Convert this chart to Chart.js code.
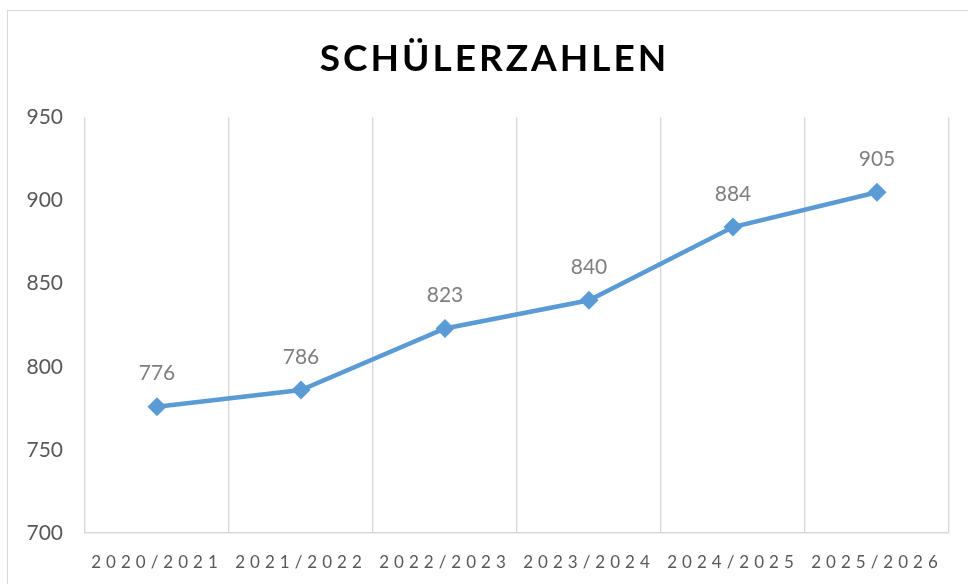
<!DOCTYPE html>
<html>
<head>
<meta charset="utf-8">
<script src="https://cdn.jsdelivr.net/npm/chart.js@4"></script>
<style>
  html, body { margin: 0; padding: 0; background: #fff; overflow: hidden; }
  #rahmen { position: absolute; left: 7px; top: 10px; width: 1000px; height: 620px; border: 1.5px solid #d9d9d9; }
  #wrap { position: absolute; left: 0; top: 0; width: 968px; height: 584px; }
</style>
</head>
<body>
<div id="rahmen"></div>
<div id="wrap"><canvas id="myChart" width="968" height="584"></canvas></div>
<script>
const schuljahre = ['2020/2021', '2021/2022', '2022/2023', '2023/2024', '2024/2025', '2025/2026'];
const schueler = [776, 786, 823, 840, 884, 905];
const titel = 'SCHÜLERZAHLEN';
const yMin = 700;
const yMax = 950;
const yStep = 50;

const ctx = document.querySelector('#myChart');

// Werte über den Punkten
const wertePlugin = {
    id: 'werte',
    afterDatasetsDraw(chart) {
        const c = chart.ctx;
        const meta = chart.getDatasetMeta(0);
        c.save();
        c.font = '21px Lato';
        c.fillStyle = '#7f7f7f';
        c.textAlign = 'center';
        c.textBaseline = 'middle';
        meta.data.forEach((pt, i) => {
            c.fillText(String(schueler[i]), pt.x, pt.y - 33);
        });
        c.restore();
    }
};

// Sperrschrift für Titel und x-Achse
const sperrPlugin = {
    id: 'sperr',
    beforeDraw(chart) {
        const x = chart.scales.x;
        if (!x._gesperrt) {
            const orig = x.drawLabels;
            x.drawLabels = function (area) {
                chart.ctx.save();
                chart.ctx.letterSpacing = '5px';
                orig.call(this, area);
                chart.ctx.restore();
            };
            x._gesperrt = true;
        }
        const t = chart.titleBlock;
        if (t && !t._gesperrt) {
            const origT = t.draw;
            t.draw = function () {
                chart.ctx.save();
                chart.ctx.letterSpacing = '3px';
                chart.ctx.translate(20, 0);
                origT.call(this);
                chart.ctx.restore();
            };
            t._gesperrt = true;
        }
    }
};

const grafico = new Chart(ctx, {
    type: 'line',
    data: {
        labels: schuljahre,
        datasets: [{
            label: titel,
            data: schueler,
            borderColor: '#5b9bd5',
            backgroundColor: '#5b9bd5',
            borderWidth: 4.5,
            tension: 0,
            pointStyle: 'rectRot',
            pointRadius: 9.5,
            pointHoverRadius: 9.5,
            pointBorderWidth: 0
        }]
    },
    options: {
        responsive: false,
        animation: false,
        devicePixelRatio: 1,
        layout: { padding: { left: 0, right: 19, top: 0, bottom: 0 } },
        plugins: {
            legend: { display: false },
            tooltip: { enabled: false },
            title: {
                display: true,
                text: titel,
                color: '#000000',
                font: { family: 'Lato', size: 37, weight: 'bold' },
                padding: { top: 37, bottom: 36 }
            }
        },
        scales: {
            x: {
                offset: true,
                grid: { offset: true, color: '#d9d9d9', lineWidth: 1.4, drawTicks: false },
                border: { display: true, color: '#d9d9d9', width: 1.5 },
                ticks: {
                    color: '#595959',
                    font: { family: 'Lato', size: 17 },
                    padding: 19,
                    maxRotation: 0,
                    autoSkip: false
                },
                afterFit: (s) => { s.height = 51; }
            },
            y: {
                min: yMin,
                max: yMax,
                grid: { display: false, drawTicks: false },
                border: { display: false },
                ticks: {
                    stepSize: yStep,
                    color: '#595959',
                    font: { family: 'Lato', size: 21 },
                    padding: 22
                },
                afterFit: (s) => { s.width = 85; }
            }
        }
    },
    plugins: [wertePlugin, sperrPlugin]
});
</script>
</body>
</html>
